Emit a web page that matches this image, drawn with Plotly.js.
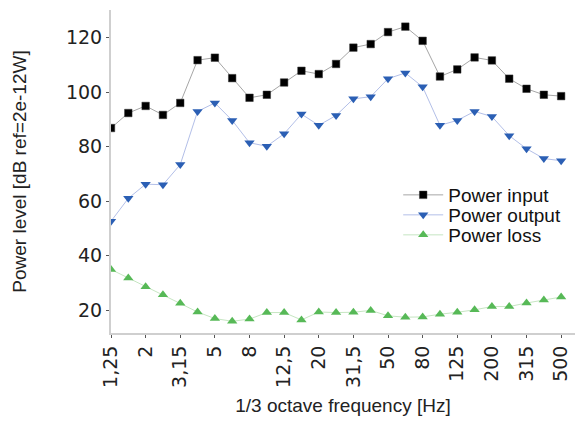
<!DOCTYPE html>
<html>
<head>
<meta charset="utf-8">
<script src="https://cdn.plot.ly/plotly-3.0.1.min.js"></script>
<style>html,body{margin:0;padding:0;background:#fff;}#chart{width:575px;height:428px;}</style>
</head>
<body>
<div id="chart"></div>
<script>
var bands = ['1,25','1,6','2','2,5','3,15','4','5','6,3','8','10','12,5','16','20','25','31,5','40','50','63','80','100','125','160','200','250','315','400','500'];
var tickLabels = ['1,25','2','3,15','5','8','12,5','20','31,5','50','80','125','200','315','500'];
var powerInput = [86.8, 92.3, 94.9, 91.6, 96.0, 111.7, 112.6, 105.1, 97.9, 99.0, 103.5, 107.8, 106.6, 110.3, 116.3, 117.6, 122.0, 124.0, 118.8, 105.7, 108.3, 112.7, 111.6, 104.9, 101.2, 99.0, 98.5];
var powerOutput = [52.6, 61.0, 66.2, 66.0, 73.4, 92.9, 96.0, 89.6, 81.4, 80.1, 84.7, 91.9, 87.8, 91.4, 97.5, 98.3, 104.9, 107.0, 101.9, 87.8, 89.6, 92.9, 91.0, 84.0, 79.2, 75.6, 74.8];
var powerLoss = [34.9, 31.8, 28.6, 25.6, 22.5, 19.3, 16.9, 15.9, 16.7, 19.1, 19.1, 16.4, 19.3, 19.1, 19.2, 19.9, 17.9, 17.4, 17.5, 18.5, 19.2, 20.1, 21.3, 21.3, 22.6, 23.7, 24.8];

var traces = [
  {x: bands, y: powerInput, name: 'Power input', mode: 'lines+markers', type: 'scatter', legend: 'legend',
   line: {color: '#a6a6a6', width: 1},
   marker: {symbol: 'square', size: 7.5, color: '#000000', line: {color: '#333', width: 0.5}}},
  {x: bands, y: powerOutput, name: 'Power output', mode: 'lines+markers', type: 'scatter', legend: 'legend2',
   line: {color: '#b3bfe8', width: 1},
   marker: {symbol: 'triangle-down', size: 9, color: '#2b5fb4', line: {width: 0}}},
  {x: bands, y: powerLoss, name: 'Power loss', mode: 'lines+markers', type: 'scatter', legend: 'legend3',
   line: {color: '#c6e6c2', width: 1},
   marker: {symbol: 'triangle-up', size: 9, color: '#57b957', line: {width: 0}}}
];

function legendAt(yPaper) {
  return {x: 0.619, y: yPaper, xanchor: 'left', yanchor: 'middle', itemwidth: 40,
          font: {family: 'Liberation Sans', size: 19, color: '#111'},
          bgcolor: 'rgba(0,0,0,0)', borderwidth: 0};
}

var layout = {
  width: 575, height: 428,
  margin: {l: 111, r: 0, t: 10, b: 95, pad: 0},
  paper_bgcolor: '#ffffff', plot_bgcolor: '#ffffff',
  showlegend: true,
  legend: legendAt(0.4272),
  legend2: legendAt(0.3653),
  legend3: legendAt(0.3034),
  xaxis: {
    type: 'category',
    range: [0, 26.8],
    tickmode: 'array', tickvals: tickLabels, ticktext: tickLabels,
    tickangle: -90,
    ticks: 'outside', ticklen: 3, tickcolor: '#555', tickwidth: 1,
    showline: true, linecolor: '#cfcfcf', linewidth: 2,
    showgrid: false, zeroline: false,
    tickfont: {family: 'DejaVu Sans', size: 19, color: '#222'},
    title: {text: '1/3 octave frequency [Hz]', font: {family: 'Liberation Sans', size: 19, color: '#222'}, standoff: 12},
    automargin: false
  },
  yaxis: {
    range: [11.6, 130.1],
    tickmode: 'array', tickvals: [20, 40, 60, 80, 100, 120],
    ticks: 'outside', ticklen: 3, tickcolor: '#555', tickwidth: 1,
    showline: true, linecolor: '#cfcfcf', linewidth: 2,
    showgrid: false, zeroline: false,
    tickfont: {family: 'DejaVu Sans', size: 19, color: '#222'},
    title: {text: 'Power level [dB ref=2e-12W]', font: {family: 'Liberation Sans', size: 19, color: '#222'}, standoff: 34},
    automargin: false
  }
};

Plotly.newPlot('chart', traces, layout, {displayModeBar: false, staticPlot: true});
</script>
</body>
</html>
